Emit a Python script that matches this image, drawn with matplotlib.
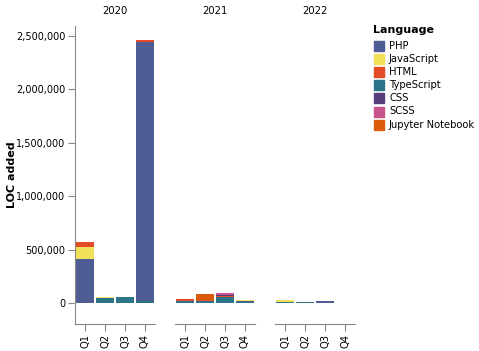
import matplotlib.pyplot as plt
from matplotlib.patches import Rectangle
from matplotlib.ticker import FuncFormatter
import numpy as np

years = ["2020", "2021", "2022"]
quarters = ["Q1", "Q2", "Q3", "Q4"]

# legend order
languages = ["PHP", "JavaScript", "HTML", "TypeScript", "CSS", "SCSS", "Jupyter Notebook"]
colors = {
    "PHP": "#4f5d95",
    "JavaScript": "#f1e05a",
    "HTML": "#e34c26",
    "TypeScript": "#2b7489",
    "CSS": "#563d7c",
    "SCSS": "#c6538c",
    "Jupyter Notebook": "#da5b0b",
}
# order the segments are stacked in (bottom first)
stack_order = ["TypeScript", "PHP", "JavaScript", "HTML", "CSS", "SCSS", "Jupyter Notebook"]

# LOC added per quarter, one row per year
loc = {
    "PHP":              [[415000, 0, 0, 2425000], [0, 0, 0, 8000],      [0, 0, 12000, 0]],
    "JavaScript":       [[106000, 3000, 3000, 0], [6000, 0, 0, 6000],   [12000, 4000, 0, 0]],
    "HTML":             [[47000, 0, 0, 20000],    [12000, 8000, 5000, 0], [0, 0, 0, 0]],
    "TypeScript":       [[0, 50000, 53000, 20000], [15000, 22000, 60000, 10000], [12000, 6000, 3000, 0]],
    "CSS":              [[0, 0, 0, 0],            [0, 0, 6000, 0],      [0, 0, 0, 0]],
    "SCSS":             [[0, 0, 0, 0],            [0, 0, 18000, 0],     [0, 0, 0, 0]],
    "Jupyter Notebook": [[0, 0, 0, 0],            [0, 50000, 0, 0],     [0, 0, 0, 0]],
}

W, H = 479, 351
fig = plt.figure(figsize=(W / 100, H / 100), dpi=100)

axis_col = "#888888"
lefts = [75, 175, 275]
x = np.arange(len(quarters))

for i, yr in enumerate(years):
    ax = fig.add_axes([lefts[i] / W, (H - 324) / H, 80 / W, 298 / H])
    bottom = np.zeros(len(quarters))
    for lang in stack_order:
        vals = np.array(loc[lang][i], dtype=float)
        ax.bar(x, vals, width=0.9, bottom=bottom, color=colors[lang], linewidth=0)
        bottom += vals
    ax.set_xlim(-0.5, 3.5)
    ax.set_ylim(-197000, 2594000)
    ax.set_xticks(x)
    ax.set_xticklabels(quarters, rotation=90, fontsize=7.2)
    ax.tick_params(axis="x", length=5, color=axis_col, pad=2)
    for s in ["top", "right"]:
        ax.spines[s].set_visible(False)
    ax.spines["bottom"].set_color(axis_col)
    if i == 0:
        ax.spines["left"].set_color(axis_col)
        ax.set_yticks([0, 500000, 1000000, 1500000, 2000000, 2500000])
        ax.yaxis.set_major_formatter(FuncFormatter(lambda v, p: f"{int(v):,}"))
        ax.tick_params(axis="y", length=5, color=axis_col, labelsize=7, pad=2)
        ax.set_ylabel("LOC added", fontsize=8, fontweight="bold", va="center")
        ax.yaxis.set_label_coords((12 - 75) / 80, 0.5)
    else:
        ax.spines["left"].set_visible(False)
        ax.set_yticks([])
    ax.set_title(yr, fontsize=7.2, pad=0, y=1.0 + 12 / 298)

# legend drawn by hand
fig.text(373 / W, 1 - 30 / H, "Language", fontsize=8, fontweight="bold", va="center")
for k, lang in enumerate(languages):
    yc = 46 + k * 13.1
    fig.patches.append(Rectangle((374 / W, 1 - (yc + 5) / H), 10 / W, 10 / H,
                                 transform=fig.transFigure, color=colors[lang]))
    fig.text(389 / W, 1 - yc / H, lang, fontsize=7.2, va="center")

fig.savefig("out.png", dpi=100)
